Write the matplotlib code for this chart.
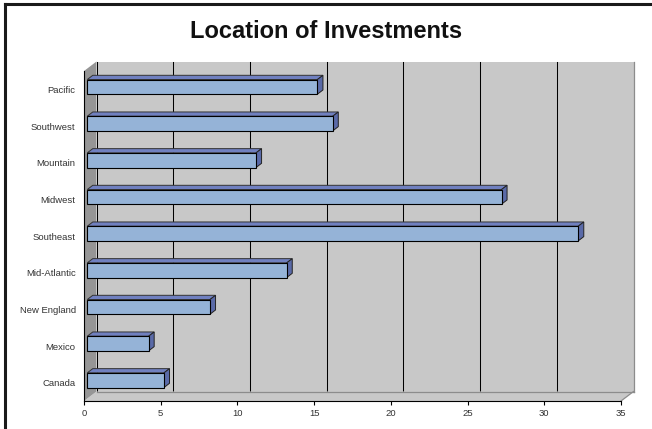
import matplotlib
matplotlib.use("Agg")
import matplotlib.pyplot as plt
from matplotlib.patches import Polygon, Rectangle
from matplotlib.lines import Line2D

plt.rcParams['font.family'] = ['Liberation Sans', 'DejaVu Sans']

# Data (bottom to top)
regions = ["Canada", "Mexico", "New England", "Mid-Atlantic", "Southeast",
           "Midwest", "Mountain", "Southwest", "Pacific"]
investments = [5, 4, 8, 13, 32, 27, 11, 16, 15]
x_ticks = [0, 5, 10, 15, 20, 25, 30, 35]
title = "Location of Investments"

W, H, DPI = 652, 429, 100
fig = plt.figure(figsize=(W / DPI, H / DPI), dpi=DPI)
fig.patch.set_facecolor("white")

# front plane of the plot box, in pixels
ax_l, ax_r, ax_top, ax_bot = 84, 621, 71, 401
ax = fig.add_axes([ax_l / W, (H - ax_bot) / H, (ax_r - ax_l) / W, (ax_bot - ax_top) / H])
xmax = 35
ymin, ymax = -0.5, len(regions) - 0.5
ax.set_xlim(0, xmax)
ax.set_ylim(ymin, ymax)
ax.patch.set_visible(False)

ux = (ax_r - ax_l) / xmax               # pixels per x unit
uy = (ax_bot - ax_top) / (ymax - ymin)  # pixels per category

def px(dx, dy):
    return dx / ux, dy / uy

# depth of the box (wall offset) and bar placement within it
wdx, wdy = px(12.5, 9.5)
bdx, bdy = px(3.3, 2.5)
ddx, ddy = px(5.5, 4.2)
bar_h = 0.4

wall = "#C8C8C8"
side_wall = "#969696"
edge_gray = "#8C8C8C"

# back wall
ax.add_patch(Rectangle((wdx, ymin + wdy), xmax, ymax - ymin, facecolor=wall,
                       edgecolor="none", zorder=0, clip_on=False))
# floor
ax.add_patch(Polygon([(0, ymin), (xmax, ymin), (xmax + wdx, ymin + wdy), (wdx, ymin + wdy)],
                     closed=True, facecolor=wall, edgecolor="none", zorder=0.5, clip_on=False))
# left wall
ax.add_patch(Polygon([(0, ymin), (wdx, ymin + wdy), (wdx, ymax + wdy), (0, ymax)],
                     closed=True, facecolor=side_wall, edgecolor="none", zorder=0.6, clip_on=False))

# gridlines on the back wall
for t in x_ticks[:-1]:
    ax.add_line(Line2D([t + wdx, t + wdx], [ymin + wdy, ymax + wdy], color="black",
                       lw=0.75, zorder=0.4, clip_on=False))
# right edge of back wall and edges of floor
ax.add_line(Line2D([xmax + wdx, xmax + wdx], [ymin + wdy, ymax + wdy], color=edge_gray,
                   lw=0.9, zorder=0.45, clip_on=False))
ax.add_line(Line2D([wdx, xmax + wdx], [ymin + wdy, ymin + wdy], color=edge_gray,
                   lw=0.9, zorder=0.55, clip_on=False))
ax.add_line(Line2D([xmax, xmax + wdx], [ymin, ymin + wdy], color=edge_gray,
                   lw=0.9, zorder=0.55, clip_on=False))

# bars: front faces plus top and end faces for depth
front_c, top_c, side_c = "#95B3D7", "#7080C0", "#5A6AA8"
ys = [i + bdy for i in range(len(regions))]
ax.barh(ys, investments, left=bdx, height=bar_h, color=front_c,
        edgecolor="black", linewidth=0.8, zorder=3)
for y, v in zip(ys, investments):
    x0, x1 = bdx, bdx + v
    yt, yb = y + bar_h / 2, y - bar_h / 2
    ax.add_patch(Polygon([(x0, yt), (x1, yt), (x1 + ddx, yt + ddy), (x0 + ddx, yt + ddy)],
                         closed=True, facecolor=top_c, edgecolor="#333333",
                         linewidth=0.7, zorder=2.9, clip_on=False))
    ax.add_patch(Polygon([(x1, yb), (x1 + ddx, yb + ddy), (x1 + ddx, yt + ddy), (x1, yt)],
                         closed=True, facecolor=side_c, edgecolor="#222222",
                         linewidth=0.7, zorder=2.9, clip_on=False))

# axes
for s in ["top", "right"]:
    ax.spines[s].set_visible(False)
for s in ["bottom", "left"]:
    ax.spines[s].set_linewidth(0.8)
    ax.spines[s].set_zorder(4)
ax.set_xticks(x_ticks)
ax.set_xticklabels([str(t) for t in x_ticks])
ax.set_yticks(range(len(regions)))
ax.set_yticklabels(regions)
ax.tick_params(axis="x", direction="out", length=3, width=0.8, pad=3,
               labelsize=6.8, labelcolor="#333333")
ax.tick_params(axis="y", length=0, pad=6, labelsize=6.8, labelcolor="#333333")

fig.text(0.5, 1 - 31 / H, title, ha="center", va="center",
         fontsize=17, fontweight="bold", color="#111111")

# chart frame (left and top edges)
fig.add_artist(Line2D([5 / W, 5 / W], [0, 1 - 4 / H], transform=fig.transFigure,
                      color="#1A1A1A", lw=2.2))
fig.add_artist(Line2D([5 / W, 1], [1 - 4 / H, 1 - 4 / H], transform=fig.transFigure,
                      color="#1A1A1A", lw=2.2))

fig.savefig("out.png", dpi=DPI)
